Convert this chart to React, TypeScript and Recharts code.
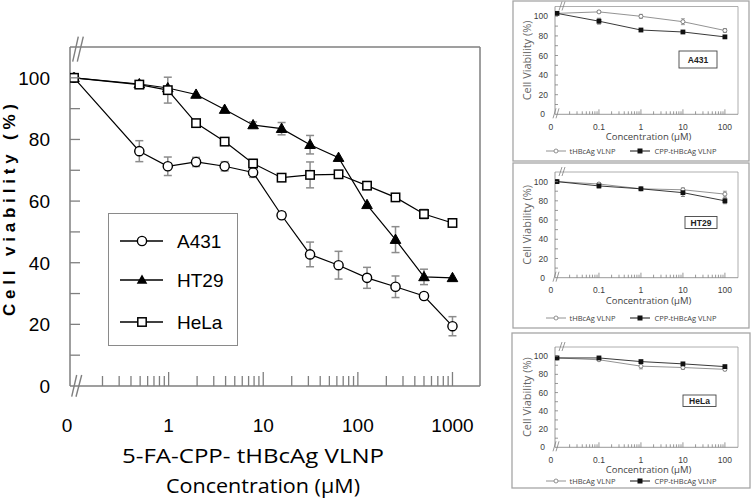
import React from 'react';
import { LineChart, Line, XAxis, YAxis, ErrorBar, ReferenceLine, Legend } from 'recharts';

// ---------------- Main chart data ----------------
const concentrations = [0.1, 0.49, 0.98, 1.95, 3.91, 7.81, 15.63, 31.25, 62.5, 125, 250, 500, 1000];
const a431 = [100, 76.2, 71.3, 72.7, 71.3, 69.3, 55.4, 42.7, 39.2, 35.1, 32.2, 29.2, 19.4];
const a431Err = [0, 3.4, 3, 1.5, 1.5, 1.6, 1, 4, 4.5, 3.4, 3.5, 1, 3.1];
const ht29 = [100, 98, 96.7, 94.6, 89.7, 84.7, 83.5, 78.3, 74.1, 58.8, 47.5, 35.4, 35.1];
const ht29Err = [0, 1, 0, 0, 0, 1, 2, 3, 0, 0, 4.2, 2.5, 0];
const hela = [100, 97.8, 96, 85.3, 79.3, 72.2, 67.6, 68.5, 68.7, 65.0, 61.2, 55.8, 52.9];
const helaErr = [0, 1, 4.2, 0, 0, 1.3, 1, 4.2, 0, 0, 0, 1.5, 0];
const seriesNames = ['A431', 'HT29', 'HeLa'];

const mainXMajor = [0.1, 1, 10, 100, 1000];
const mainXLabels = ['0', '1', '10', '100', '1000'];
const mainYTicks = [0, 10, 20, 30, 40, 50, 60, 70, 80, 90, 100];
const mainXTitle = ['5-FA-CPP- tHBcAg VLNP', 'Concentration (\u00b5M)'];
const mainYTitle = 'Cell viability (%)';

// ---------------- Small panels data ----------------
const smallConcentrations = [0.01, 0.1, 1, 10, 100];
const smallXLabels = ['0', '0.1', '1', '10', '100'];
const smallYTicks = [0, 10, 20, 30, 40, 50, 60, 70, 80, 90, 100];
const smallSeriesNames = ['tHBcAg VLNP', 'CPP-tHBcAg VLNP'];
const smallXTitle = 'Concentration (\u00b5M)';
const smallYTitle = 'Cell Viability (%)';

const a431Thb = [103, 104.5, 100, 94.5, 85.5];
const a431ThbErr = [0, 1, 2, 3, 2];
const a431Cpp = [103, 95, 86, 84, 79];
const a431CppErr = [0, 3, 1, 1, 1];

const ht29Thb = [100, 97.5, 92.5, 91.5, 87];
const ht29ThbErr = [0, 1.5, 1, 2, 3];
const ht29Cpp = [100, 95.5, 92.5, 88.5, 80];
const ht29CppErr = [0, 2, 1.5, 4, 3];

const helaThb = [98, 96, 89, 87.5, 85.5];
const helaThbErr = [0, 1, 3, 2, 1.5];
const helaCpp = [98, 98, 94, 91.5, 88.5];
const helaCppErr = [0, 1, 1, 1, 1];

// ---------------- helpers ----------------
function logTicks(majors: number[]) {
  const out: number[] = [];
  for (let i = 0; i < majors.length; i++) {
    out.push(majors[i]);
    if (i < majors.length - 1) {
      for (let k = 2; k <= 9; k++) out.push(+(majors[i] * k).toPrecision(8));
    }
  }
  return out;
}
function majorIndex(majors: number[], v: number) {
  for (let i = 0; i < majors.length; i++) {
    if (Math.abs(majors[i] - v) < 1e-9 * Math.max(1, majors[i])) return i;
  }
  return -1;
}

const AXIS_GRAY = '#7f7f7f';
const ARIAL = '"Liberation Sans", Arial, sans-serif';
const HUMAN = '"Open Sans", "Noto Sans", sans-serif';

const mainData = concentrations.map((c, i) => ({
  c,
  a431: a431[i], a431Err: a431Err[i],
  ht29: ht29[i], ht29Err: ht29Err[i],
  hela: hela[i], helaErr: helaErr[i],
}));

const circleDot = (p: any) => (
  <circle key={`c${p.index}`} cx={p.cx} cy={p.cy} r={4.6} fill="#fff" stroke="#000" strokeWidth={1.4} />
);
const triDot = (p: any) => (
  <polygon key={`t${p.index}`} points={`${p.cx},${p.cy - 5.5} ${p.cx - 5.3},${p.cy + 3.8} ${p.cx + 5.3},${p.cy + 3.8}`} fill="#000" stroke="#000" strokeWidth={1} />
);
const squareDot = (p: any) => (
  <rect key={`s${p.index}`} x={p.cx - 4.2} y={p.cy - 4.2} width={8.4} height={8.4} fill="#fff" stroke="#000" strokeWidth={1.5} />
);

const mainXTicks = logTicks(mainXMajor);

const MainXTick = (props: any) => {
  const { x, y, payload } = props;
  const idx = majorIndex(mainXMajor, payload.value);
  const isFirst = idx === 0;
  return (
    <g>
      {!isFirst && (
        <line x1={x} x2={x} y1={y} y2={y - (idx >= 0 ? 14 : 10)} stroke={AXIS_GRAY} strokeWidth={1.3} />
      )}
      {idx >= 0 && (
        <text x={x + (isFirst ? -7 : 0)} y={y + 46} textAnchor="middle" fontSize={19} fontFamily={ARIAL} fill="#000">
          {mainXLabels[idx]}
        </text>
      )}
    </g>
  );
};

const MainYTick = (props: any) => {
  const { x, y, payload } = props;
  const v = payload.value;
  return (
    <g>
      {v !== 0 && <line x1={x} x2={x + 10} y1={y} y2={y} stroke={AXIS_GRAY} strokeWidth={1.3} />}
      {v % 20 === 0 && (
        <text x={x - 20} y={y} dy="0.36em" textAnchor="end" fontSize={19} fontFamily={ARIAL} fill="#000">
          {v}
        </text>
      )}
    </g>
  );
};

const MainLegend = () => {
  const rows = [
    { name: seriesNames[0], y: 27, kind: 'c' },
    { name: seriesNames[1], y: 66, kind: 't' },
    { name: seriesNames[2], y: 108, kind: 's' },
  ];
  return (
    <div style={{ width: 130, height: 133, border: '1.5px solid #8a8a8a', boxSizing: 'border-box', background: '#fff' }}>
      <svg width={127} height={130} style={{ display: 'block' }}>
        {rows.map((r) => (
          <g key={r.name}>
            <line x1={11} x2={54} y1={r.y} y2={r.y} stroke="#000" strokeWidth={1.3} />
            {r.kind === 'c' && <circle cx={33} cy={r.y} r={4.6} fill="#fff" stroke="#000" strokeWidth={1.4} />}
            {r.kind === 't' && <polygon points={`33,${r.y - 5.5} 27.7,${r.y + 3.8} 38.3,${r.y + 3.8}`} fill="#000" />}
            {r.kind === 's' && <rect x={28.8} y={r.y - 4.2} width={8.4} height={8.4} fill="#fff" stroke="#000" strokeWidth={1.5} />}
            <text x={68} y={r.y} dy="0.36em" fontSize={19} fontFamily={ARIAL} fill="#000">{r.name}</text>
          </g>
        ))}
      </svg>
    </div>
  );
};

const MAIN_X_DOMAIN: [number, number] = [0.0907, 1954];

const MainChart = () => (
  <div style={{ position: 'absolute', left: 0, top: 0 }}>
    <LineChart width={500} height={500} data={mainData} margin={{ top: 47, right: 20, bottom: 84, left: 0 }}>
      <XAxis
        dataKey="c"
        type="number"
        scale="log"
        domain={MAIN_X_DOMAIN}
        allowDataOverflow
        ticks={mainXTicks}
        interval={0}
        tickSize={0}
        tickMargin={0}
        tickLine={false}
        height={30}
        axisLine={{ stroke: AXIS_GRAY, strokeWidth: 1.5 }}
        tick={(p: any) => <MainXTick {...p} />}
      />
      <YAxis
        type="number"
        domain={[0, 110]}
        ticks={mainYTicks}
        interval={0}
        tickSize={0}
        tickMargin={0}
        tickLine={false}
        width={70}
        axisLine={{ stroke: AXIS_GRAY, strokeWidth: 1.5 }}
        tick={(p: any) => <MainYTick {...p} />}
      />
      <ReferenceLine y={110} stroke={AXIS_GRAY} strokeWidth={1.5} />
      <ReferenceLine x={MAIN_X_DOMAIN[1]} stroke={AXIS_GRAY} strokeWidth={1.5} />
      <Line dataKey="a431" name={seriesNames[0]} stroke="#000" strokeWidth={1.2} dot={circleDot} isAnimationActive={false}>
        <ErrorBar dataKey="a431Err" direction="y" width={4} stroke="#8c8c8c" strokeWidth={1.5} />
      </Line>
      <Line dataKey="ht29" name={seriesNames[1]} stroke="#000" strokeWidth={1.2} dot={triDot} isAnimationActive={false}>
        <ErrorBar dataKey="ht29Err" direction="y" width={4} stroke="#8c8c8c" strokeWidth={1.5} />
      </Line>
      <Line dataKey="hela" name={seriesNames[2]} stroke="#000" strokeWidth={1.2} dot={squareDot} isAnimationActive={false}>
        <ErrorBar dataKey="helaErr" direction="y" width={4} stroke="#8c8c8c" strokeWidth={1.5} />
      </Line>
      <Legend
        layout="vertical"
        align="center"
        verticalAlign="middle"
        wrapperStyle={{ position: 'absolute', left: 108, top: 213, width: 130, height: 133 }}
        content={() => <MainLegend />}
      />
    </LineChart>
  </div>
);

// ---------------- Small panel ----------------
const smallXTicks = logTicks(smallConcentrations);

const SmallXTick = (props: any) => {
  const { x, y, payload } = props;
  const idx = majorIndex(smallConcentrations, payload.value);
  const isFirst = idx === 0;
  return (
    <g>
      {!isFirst && <line x1={x} x2={x} y1={y} y2={y - (idx >= 0 ? 5 : 3)} stroke={AXIS_GRAY} strokeWidth={0.8} />}
      {idx >= 0 && (
        <text x={x + (isFirst ? -6 : 0)} y={y + 15.5} textAnchor="middle" fontSize={8.5} fontFamily={ARIAL} fill="#404040">
          {smallXLabels[idx]}
        </text>
      )}
    </g>
  );
};

const SmallYTick = (props: any) => {
  const { x, y, payload } = props;
  const v = payload.value;
  return (
    <g>
      {v !== 0 && <line x1={x} x2={x + 3} y1={y} y2={y} stroke={AXIS_GRAY} strokeWidth={0.8} />}
      {v % 20 === 0 && (
        <text x={v === 0 ? x - 10 : x - 7} y={y} dy="0.36em" textAnchor="end" fontSize={8.5} fontFamily={ARIAL} fill="#404040">
          {v}
        </text>
      )}
    </g>
  );
};

const SmallLegend = () => (
  <div style={{ display: 'flex', justifyContent: 'center', alignItems: 'center', width: '100%', height: 12, fontFamily: HUMAN, fontSize: 7.5, color: '#444', whiteSpace: 'nowrap' }}>
    <svg width={22} height={8} style={{ marginRight: 2 }}>
      <line x1={1} x2={21} y1={4} y2={4} stroke="#777" strokeWidth={0.8} />
      <circle cx={11} cy={4} r={2} fill="#fff" stroke="#777" strokeWidth={0.8} />
    </svg>
    <span>{smallSeriesNames[0]}</span>
    <svg width={22} height={8} style={{ marginLeft: 14, marginRight: 3 }}>
      <line x1={1} x2={21} y1={4} y2={4} stroke="#111" strokeWidth={1} />
      <rect x={8.5} y={1.5} width={5} height={5} fill="#111" />
    </svg>
    <span>{smallSeriesNames[1]}</span>
  </div>
);

const smallThbDot = (p: any) => (
  <circle key={`o${p.index}`} cx={p.cx} cy={p.cy} r={2} fill="#fff" stroke="#666" strokeWidth={0.8} />
);
const smallCppDot = (p: any) => (
  <rect key={`q${p.index}`} x={p.cx - 2.4} y={p.cy - 2.4} width={4.8} height={4.8} fill="#111" />
);

type PanelProps = {
  boxX: number; boxY: number; boxW: number; boxH: number;
  plotTop: number; plotBottom: number; plotLeft: number; plotRight: number;
  legendY: number;
  thb: number[]; thbErr: number[]; cpp: number[]; cppErr: number[];
};

const SMALL_X_DOMAIN: [number, number] = [0.00897, 205];

const SmallPanel = (pp: PanelProps) => {
  const data = smallConcentrations.map((c, i) => ({ c, thb: pp.thb[i], thbErr: pp.thbErr[i], cpp: pp.cpp[i], cppErr: pp.cppErr[i] }));
  const yAxisW = 30;
  const xAxisH = 12;
  const margin = {
    top: pp.plotTop - pp.boxY,
    bottom: pp.boxY + pp.boxH - pp.plotBottom - xAxisH,
    left: pp.plotLeft - pp.boxX - yAxisW,
    right: pp.boxX + pp.boxW - pp.plotRight,
  };
  return (
    <div style={{ position: 'absolute', left: pp.boxX, top: pp.boxY }}>
      <LineChart width={pp.boxW} height={pp.boxH} data={data} margin={margin}>
        <XAxis
          dataKey="c" type="number" scale="log" domain={SMALL_X_DOMAIN} allowDataOverflow
          ticks={smallXTicks} interval={0} tickSize={0} tickMargin={0} tickLine={false} height={xAxisH}
          axisLine={{ stroke: AXIS_GRAY, strokeWidth: 0.8 }}
          tick={(p: any) => <SmallXTick {...p} />}
        />
        <YAxis
          type="number" domain={[0, 110]} ticks={smallYTicks} interval={0} tickSize={0} tickMargin={0} tickLine={false}
          width={yAxisW} axisLine={{ stroke: AXIS_GRAY, strokeWidth: 0.8 }}
          tick={(p: any) => <SmallYTick {...p} />}
        />
        <ReferenceLine y={110} stroke="#9a9a9a" strokeWidth={0.8} />
        <ReferenceLine x={SMALL_X_DOMAIN[1]} stroke="#9a9a9a" strokeWidth={0.8} />
        <Line dataKey="thb" name={smallSeriesNames[0]} stroke="#777" strokeWidth={0.8} dot={smallThbDot} isAnimationActive={false}>
          <ErrorBar dataKey="thbErr" direction="y" width={2} stroke="#888" strokeWidth={0.8} />
        </Line>
        <Line dataKey="cpp" name={smallSeriesNames[1]} stroke="#222" strokeWidth={0.9} dot={smallCppDot} isAnimationActive={false}>
          <ErrorBar dataKey="cppErr" direction="y" width={2} stroke="#666" strokeWidth={0.8} />
        </Line>
        <Legend
          layout="vertical" align="center" verticalAlign="middle"
          wrapperStyle={{ position: 'absolute', left: 0, top: pp.legendY - pp.boxY - 6, width: pp.boxW, height: 12 }}
          content={() => <SmallLegend />}
        />
      </LineChart>
    </div>
  );
};

const panels = [
  { name: 'A431', boxX: 513, boxY: 1, boxW: 236, boxH: 160, plotTop: 6.5, plotBottom: 114.3, legendY: 151, thb: a431Thb, thbErr: a431ThbErr, cpp: a431Cpp, cppErr: a431CppErr, tag: { x: 679, y: 51, w: 38, h: 17 } },
  { name: 'HT29', boxX: 513, boxY: 163, boxW: 236, boxH: 165, plotTop: 172, plotBottom: 277.7, legendY: 318, thb: ht29Thb, thbErr: ht29ThbErr, cpp: ht29Cpp, cppErr: ht29CppErr, tag: { x: 685, y: 216.5, w: 32, h: 12 } },
  { name: 'HeLa', boxX: 512, boxY: 333, boxW: 238, boxH: 155, plotTop: 347, plotBottom: 447.3, legendY: 481, thb: helaThb, thbErr: helaThbErr, cpp: helaCpp, cppErr: helaCppErr, tag: { x: 683, y: 395, w: 33, h: 11.5 } },
];
const PLOT_LEFT = 555;
const PLOT_RIGHT = 738;

export default function App() {
  return (
    <div style={{ position: 'absolute', left: 0, top: 0, width: 751, height: 500, background: '#fff', overflow: 'hidden' }}>
      <MainChart />
      {panels.map((p) => (
        <SmallPanel key={p.name} boxX={p.boxX} boxY={p.boxY} boxW={p.boxW} boxH={p.boxH}
          plotTop={p.plotTop} plotBottom={p.plotBottom} plotLeft={PLOT_LEFT} plotRight={PLOT_RIGHT}
          legendY={p.legendY} thb={p.thb} thbErr={p.thbErr} cpp={p.cpp} cppErr={p.cppErr} />
      ))}
      <svg width={751} height={500} style={{ position: 'absolute', left: 0, top: 0, pointerEvents: 'none' }}>
        {/* main chart axis breaks */}
        <g stroke={AXIS_GRAY} strokeWidth={1.4}>
          <line x1={72.7} y1={61.7} x2={78.3} y2={36.7} />
          <line x1={77.3} y1={61.7} x2={83.3} y2={36.7} />
          <line x1={71.7} y1={396.7} x2={76.7} y2={375} />
          <line x1={76} y1={396.7} x2={81.7} y2={375} />
        </g>
        {/* main titles */}
        <text x={15} y={210} transform="rotate(-90 15 210)" textAnchor="middle" fontSize={17} fontWeight="bold"
          fontFamily={ARIAL} textLength={212} lengthAdjust="spacing" fill="#000">{mainYTitle}</text>
        <text x={253} y={463} textAnchor="middle" fontSize={20} fontFamily={HUMAN} textLength={262} lengthAdjust="spacingAndGlyphs" fill="#000">{mainXTitle[0]}</text>
        <text x={263} y={493} textAnchor="middle" fontSize={20} fontFamily={HUMAN} textLength={194} lengthAdjust="spacingAndGlyphs" fill="#000">{mainXTitle[1]}</text>
        {/* small panels decorations */}
        {panels.map((p) => (
          <g key={p.name}>
            <rect x={p.boxX} y={p.boxY} width={p.boxW} height={p.boxH} fill="none" stroke="#a6a6a6" strokeWidth={1.3} />
            <g stroke={AXIS_GRAY} strokeWidth={0.8}>
              <line x1={PLOT_LEFT + 4} y1={p.plotTop + 4} x2={PLOT_LEFT + 7} y2={p.plotTop - 5} />
              <line x1={PLOT_LEFT + 7} y1={p.plotTop + 4} x2={PLOT_LEFT + 10} y2={p.plotTop - 5} />
              <line x1={PLOT_LEFT - 2} y1={p.plotBottom + 4} x2={PLOT_LEFT + 1} y2={p.plotBottom - 6} />
              <line x1={PLOT_LEFT + 1} y1={p.plotBottom + 4} x2={PLOT_LEFT + 4} y2={p.plotBottom - 6} />
            </g>
            <text x={PLOT_LEFT - 24} y={(p.plotTop + p.plotBottom) / 2} transform={`rotate(-90 ${PLOT_LEFT - 24} ${(p.plotTop + p.plotBottom) / 2})`}
              textAnchor="middle" fontSize={11} fontFamily={HUMAN} fill="#666">{smallYTitle}</text>
            <text x={(PLOT_LEFT + PLOT_RIGHT) / 2 + 2} y={p.plotBottom + 26} textAnchor="middle" fontSize={9.5} fontFamily={HUMAN} fill="#444">{smallXTitle}</text>
            <rect x={p.tag.x} y={p.tag.y} width={p.tag.w} height={p.tag.h} fill="#fff" stroke="#444" strokeWidth={0.9} />
            <text x={p.tag.x + p.tag.w / 2} y={p.tag.y + p.tag.h / 2} dy="0.36em" textAnchor="middle" fontSize={8.5} fontWeight="bold" fontFamily={ARIAL} fill="#222">{p.name}</text>
          </g>
        ))}
      </svg>
    </div>
  );
}
